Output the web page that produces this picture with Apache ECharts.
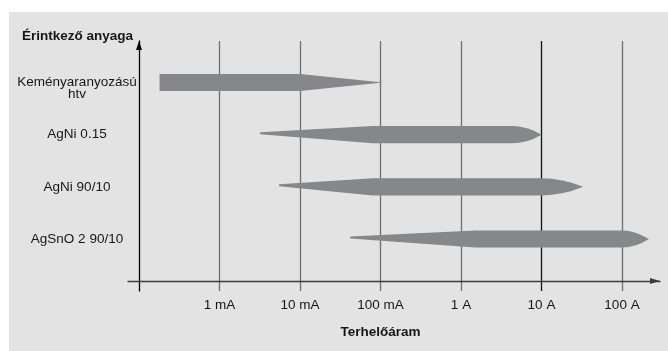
<!DOCTYPE html>
<html>
<head>
<meta charset="utf-8">
<script src="https://cdn.jsdelivr.net/npm/echarts@6/dist/echarts.min.js"></script>
<style>
  html, body { margin: 0; padding: 0; background: #ffffff; }
  #chart { width: 668px; height: 351px; }
</style>
</head>
<body>
<div id="chart"></div>
<script>
// ---- data ----
const materials = ['Keményaranyozású\nhtv', 'AgNi 0.15', 'AgNi 90/10', 'AgSnO 2 90/10'];
// load current ranges in amperes
const rangeStart = [0.00018, 0.0032, 0.0055, 0.042];   // lower tip
const fullStart  = [0.00018, 0.08, 0.08, 1.5];         // start of full width
const fullEnd    = [0.01, 4.3, 10, 100];               // end of full width
const rangeEnd   = [0.107, 10, 33, 216];               // upper tip
const tickValues = [0.001, 0.01, 0.1, 1, 10, 100];
const tickLabels = ['1 mA', '10 mA', '100 mA', '1 A', '10 A', '100 A'];
const xTitle = 'Terhelőáram';
const yTitle = 'Érintkező anyaga';

const seriesData = materials.map((m, i) => [i, rangeStart[i], fullStart[i], fullEnd[i], rangeEnd[i]]);

const FONT = '"Liberation Sans", Arial, Helvetica, sans-serif';
const TXT = '#161616';
const GRID_L = 139, GRID_R = 46;

function fmtTick(v) {
  const e = Math.round(Math.log10(v));
  for (let k = 0; k < tickValues.length; k++) {
    if (Math.round(Math.log10(tickValues[k])) === e) return tickLabels[k];
  }
  return '';
}

const chart = echarts.init(document.getElementById('chart'), null, { renderer: 'canvas' });
chart.setOption({
  backgroundColor: '#ffffff',
  animation: false,
  graphic: [{
    type: 'rect', z: -100, silent: true,
    shape: { x: 9, y: 12, width: 659, height: 339 },
    style: { fill: '#e2e3e2' }
  }],
  grid: [
    { left: 128, right: 8, top: 41, bottom: 70 },
    { left: GRID_L, right: GRID_R, top: 41, bottom: 60 },
    { left: GRID_L, right: GRID_R, top: 56.4, bottom: 85.9 }
  ],
  xAxis: [
    {
      gridIndex: 0, type: 'value', min: 0, max: 1,
      axisLine: { show: true, onZero: false, symbol: ['none', 'triangle'], symbolSize: [6, 10], symbolOffset: [0, -5],
        lineStyle: { color: '#3c3c3c', width: 1.3 } },
      axisTick: { show: false }, axisLabel: { show: false }, splitLine: { show: false }
    },
    {
      gridIndex: 1, type: 'log', logBase: 10, min: 0.0001, max: 100,
      axisLine: { show: false },
      axisTick: { show: false },
      splitLine: { show: true, showMinLine: false, showMaxLine: true,
        lineStyle: { color: ['#6e6e6e', '#6e6e6e', '#6e6e6e', '#6e6e6e', '#111111', '#6e6e6e'], width: 1.3 } },
      axisLabel: { show: true, showMinLabel: false, margin: 7, formatter: fmtTick,
        color: TXT, fontSize: 13.5, fontFamily: FONT },
      name: xTitle, nameLocation: 'middle', nameGap: 34,
      nameTextStyle: { color: TXT, fontSize: 13.5, fontWeight: 'bold', fontFamily: FONT }
    },
    {
      gridIndex: 2, type: 'log', logBase: 10, min: 0.0001, max: 100, show: false
    }
  ],
  yAxis: [
    { gridIndex: 0, type: 'value', show: false },
    {
      gridIndex: 1, type: 'value', min: 0, max: 1,
      axisLine: { show: true, onZero: false, symbol: ['none', 'triangle'], symbolSize: [6, 9], symbolOffset: [0, -4.5],
        lineStyle: { color: '#000000', width: 1.3 } },
      axisTick: { show: false }, axisLabel: { show: false }, splitLine: { show: false },
      name: yTitle, nameLocation: 'end', nameGap: 5,
      nameTextStyle: { color: TXT, fontSize: 13.5, fontWeight: 'bold', fontFamily: FONT,
        align: 'right', verticalAlign: 'middle', padding: [0, 6, 0, 0] }
    },
    {
      gridIndex: 2, type: 'category', data: materials, inverse: true,
      axisLine: { show: false }, axisTick: { show: false }, splitLine: { show: false },
      axisLabel: { show: true, margin: 62, align: 'center', color: TXT, fontSize: 13.5, fontFamily: FONT,
        lineHeight: 11.5, formatter: v => (v.indexOf('\n') >= 0 ? '\n' + v : v) }
    }
  ],
  series: [{
    type: 'custom',
    xAxisIndex: 2, yAxisIndex: 2,
    clip: false,
    data: seriesData,
    encode: { x: [1, 2, 3, 4], y: 0 },
    renderItem: function (params, api) {
      const row = api.value(0);
      const p0 = api.coord([api.value(1), row]);
      const x1 = api.coord([api.value(2), row])[0];
      const x2 = api.coord([api.value(3), row])[0];
      const x3 = api.coord([api.value(4), row])[0];
      const x0 = p0[0], y = p0[1];
      const h = 8.6;
      let d;
      if (x1 - x0 < 1) {
        d = `M${x0},${y - h} L${x2},${y - h} L${x3},${y} L${x2},${y + h} L${x0},${y + h} Z`;
      } else {
        const ty = y - 1.5;
        const cx = x2 + 0.5 * (x3 - x2);
        d = `M${x0},${ty - 1} L${x1},${y - h} L${x2},${y - h} Q${cx},${y - h} ${x3},${y} ` +
            `Q${cx},${y + h} ${x2},${y + h} L${x1},${y + h} L${x0},${ty + 1} Z`;
      }
      return { type: 'path', shape: { pathData: d }, style: { fill: '#868788' } };
    }
  }]
});
</script>
</body>
</html>
